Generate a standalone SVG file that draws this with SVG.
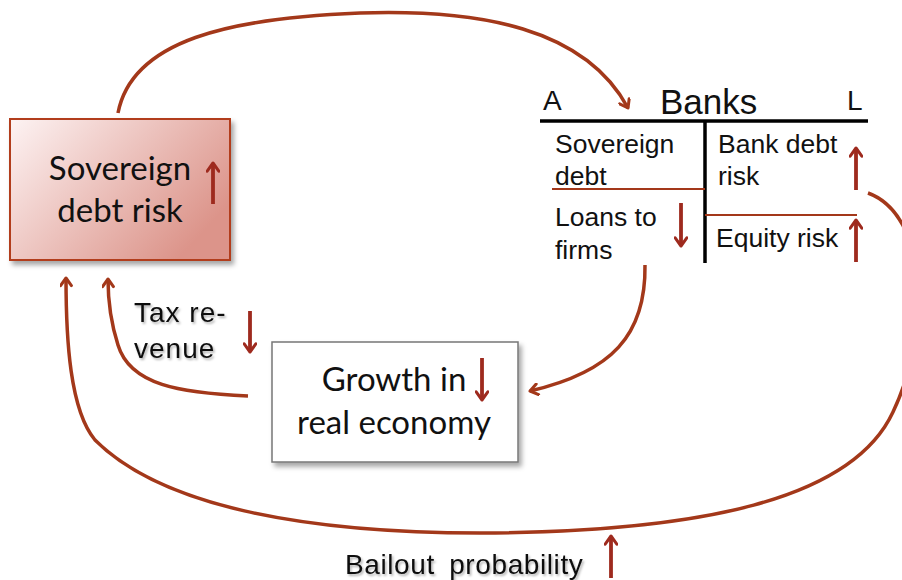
<svg xmlns="http://www.w3.org/2000/svg" width="902" height="580" viewBox="0 0 902 580">
<defs>
<linearGradient id="sg" x1="0" y1="0" x2="1" y2="0.6">
<stop offset="0" stop-color="#fdf3f3"/>
<stop offset="1" stop-color="#dc948a"/>
</linearGradient>
<filter id="sh" x="-10%" y="-10%" width="130%" height="130%">
<feDropShadow dx="3" dy="4" stdDeviation="2.5" flood-color="#000" flood-opacity="0.35"/>
</filter>
<filter id="ts" x="-10%" y="-20%" width="130%" height="150%">
<feDropShadow dx="1.5" dy="2" stdDeviation="1.2" flood-color="#000" flood-opacity="0.3"/>
</filter>
<marker id="ah" viewBox="0 0 12 12" refX="9" refY="6" markerWidth="13" markerHeight="13" markerUnits="userSpaceOnUse" orient="auto">
<path d="M2,1 L9,6 L2,11" fill="none" stroke="#a3381a" stroke-width="2.8" stroke-linecap="round" stroke-linejoin="round"/>
</marker>
<marker id="sa" viewBox="0 0 12 12" refX="9" refY="6" markerWidth="14" markerHeight="14" markerUnits="userSpaceOnUse" orient="auto">
<path d="M2,1 L9,6 L2,11" fill="none" stroke="#9e2a1e" stroke-width="2.6" stroke-linecap="round" stroke-linejoin="round"/>
</marker>
</defs>
<style>
.conn{fill:none;stroke:#a3381a;stroke-width:3.5;marker-end:url(#ah)}
.ind{stroke:#9e2a1e;stroke-width:3.8;marker-end:url(#sa)}
.cal{font-family:Lato,"Open Sans",sans-serif;font-size:33px;fill:#111}
.ar{font-family:"Liberation Sans",Arial,sans-serif;fill:#111}
.bk{font-size:26.5px}
</style>
<rect width="902" height="580" fill="#fff"/>
<g id="connectors">
<path class="conn" d="M118,113 C132,40 230,18 360,13 C480,9 585,28 628,108"/>
<path class="conn" d="M645,265 C646,335 612,372 530,391"/>
<path class="conn" d="M248,396 C180,393 130,385 118,345 C110,320 108,300 108,279"/>
<path class="conn" d="M868,193 C928,215 932,330 893,412 C852,500 700,532 480,533 C300,533 160,505 95,440 C70,410 66,340 66,278"/>
</g>
<g id="sovereign">
<rect x="10" y="119" width="220" height="141" fill="url(#sg)" stroke="#b23c1e" stroke-width="2" filter="url(#sh)"/>
<text class="cal" x="120" y="180" text-anchor="middle">Sovereign</text>
<text class="cal" x="120" y="222" text-anchor="middle">debt risk</text>
<line class="ind" x1="213" y1="204" x2="213" y2="163"/>
</g>
<g id="banks">
<text class="ar" x="543" y="110" font-size="28">A</text>
<text class="ar" x="660" y="114" font-size="35">Banks</text>
<text class="ar" x="847" y="110" font-size="28">L</text>
<line x1="540" y1="121" x2="868" y2="121" stroke="#000" stroke-width="3.5"/>
<line x1="705" y1="121" x2="705" y2="263" stroke="#000" stroke-width="3.5"/>
<line x1="552" y1="189" x2="705" y2="189" stroke="#a3381a" stroke-width="2"/>
<line x1="705" y1="215" x2="857" y2="215" stroke="#a3381a" stroke-width="2"/>
<text class="ar bk" x="555" y="153">Sovereign</text>
<text class="ar bk" x="555" y="185">debt</text>
<text class="ar bk" x="555" y="226">Loans to</text>
<text class="ar bk" x="555" y="259">firms</text>
<text class="ar bk" x="718" y="153">Bank debt</text>
<text class="ar bk" x="718" y="185">risk</text>
<text class="ar bk" x="716" y="247">Equity risk</text>
<line class="ind" x1="681" y1="203" x2="681" y2="246"/>
<line class="ind" x1="856" y1="190" x2="856" y2="148"/>
<line class="ind" x1="856" y1="262" x2="856" y2="220"/>
</g>
<g id="growth">
<rect x="272" y="342" width="246" height="120" fill="#fff" stroke="#777" stroke-width="1.5" filter="url(#sh)"/>
<text class="cal" x="394" y="391" text-anchor="middle">Growth in</text>
<text class="cal" x="394" y="434" text-anchor="middle">real economy</text>
<line class="ind" x1="482" y1="358" x2="482" y2="400"/>
</g>
<g id="tax">
<text class="ar" x="134" y="322" font-size="28" letter-spacing="1" filter="url(#ts)">Tax re-</text>
<text class="ar" x="134" y="358" font-size="28" letter-spacing="1" filter="url(#ts)">venue</text>
<line class="ind" x1="250" y1="311" x2="250" y2="352"/>
</g>
<g id="bailout">
<text class="ar" x="345" y="574" font-size="28" letter-spacing="0.6" word-spacing="6" filter="url(#ts)">Bailout probability</text>
<line class="ind" x1="611" y1="578" x2="611" y2="536"/>
</g>
</svg>
